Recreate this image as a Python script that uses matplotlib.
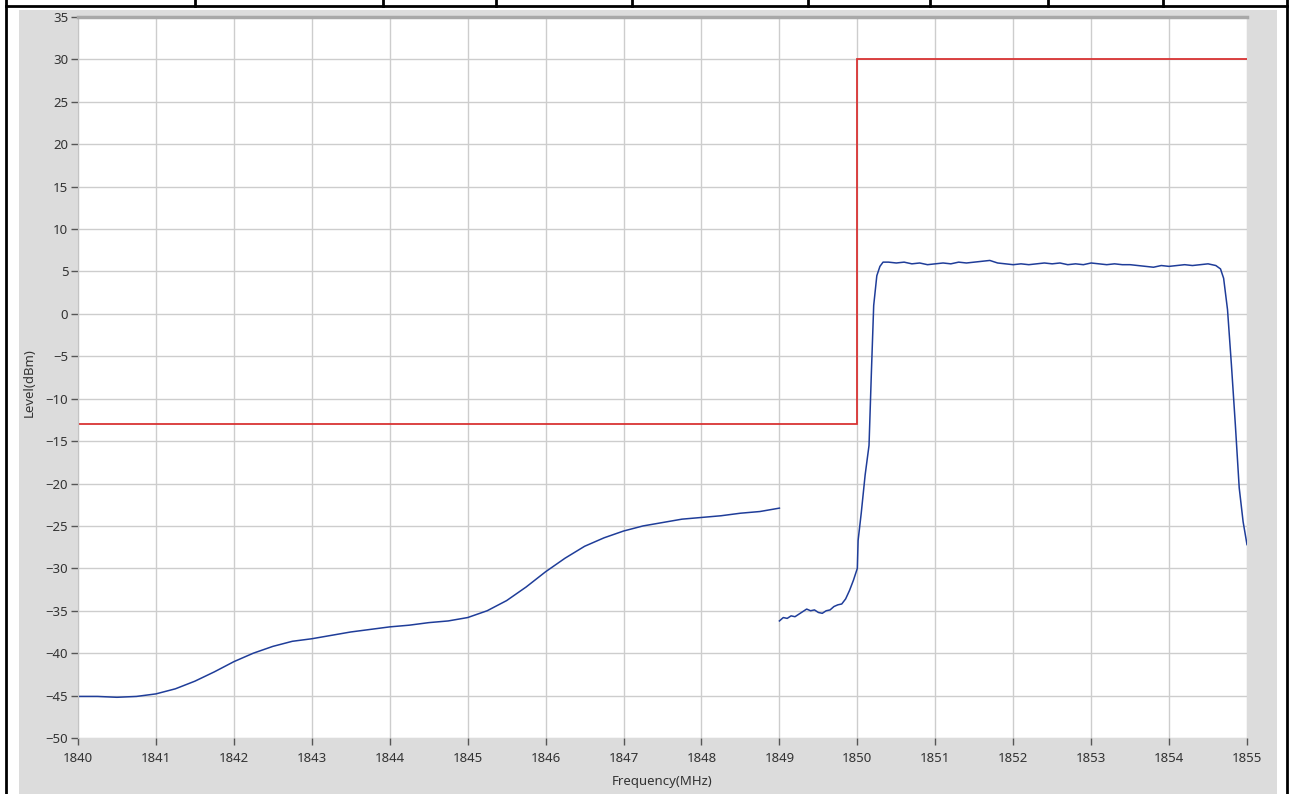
import matplotlib.pyplot as plt
from matplotlib.lines import Line2D
from matplotlib.patches import Rectangle

plt.switch_backend("agg")
plt.rcParams["font.family"] = ["Noto Sans", "DejaVu Sans"]

# measured trace, part below 1849 MHz
freq_low = [1840.00, 1840.25, 1840.50, 1840.75, 1841.00, 1841.25, 1841.50, 1841.75,
            1842.00, 1842.25, 1842.50, 1842.75, 1843.00, 1843.25, 1843.50, 1843.75,
            1844.00, 1844.25, 1844.50, 1844.75, 1845.00, 1845.25, 1845.50, 1845.75,
            1846.00, 1846.25, 1846.50, 1846.75, 1847.00, 1847.25, 1847.50, 1847.75,
            1848.00, 1848.25, 1848.50, 1848.75, 1849.00]
level_low = [-45.1, -45.1, -45.2, -45.1, -44.8, -44.2, -43.3, -42.2,
             -41.0, -40.0, -39.2, -38.6, -38.3, -37.9, -37.5, -37.2,
             -36.9, -36.7, -36.4, -36.2, -35.8, -35.0, -33.8, -32.2,
             -30.4, -28.8, -27.4, -26.4, -25.6, -25.0, -24.6, -24.2,
             -24.0, -23.8, -23.5, -23.3, -22.9]

# measured trace, 1849..1855 MHz
freq_high = [1849.00, 1849.05, 1849.10, 1849.15, 1849.20, 1849.25, 1849.30, 1849.35,
             1849.40, 1849.45, 1849.50, 1849.55, 1849.60, 1849.65, 1849.70, 1849.75,
             1849.80, 1849.85, 1849.90, 1849.95, 1850.00, 1850.01, 1850.05, 1850.10,
             1850.15, 1850.18, 1850.21, 1850.25, 1850.29, 1850.33, 1850.40, 1850.50,
             1850.60, 1850.70, 1850.80, 1850.90, 1851.00, 1851.10, 1851.20, 1851.30,
             1851.40, 1851.50, 1851.60, 1851.70, 1851.80, 1851.90, 1852.00, 1852.10,
             1852.20, 1852.30, 1852.40, 1852.50, 1852.60, 1852.70, 1852.80, 1852.90,
             1853.00, 1853.10, 1853.20, 1853.30, 1853.40, 1853.50, 1853.60, 1853.70,
             1853.80, 1853.90, 1854.00, 1854.10, 1854.20, 1854.30, 1854.40, 1854.50,
             1854.60, 1854.66, 1854.70, 1854.75, 1854.80, 1854.85, 1854.90, 1854.95,
             1855.00]
level_high = [-36.2, -35.8, -35.9, -35.6, -35.7, -35.4, -35.1, -34.8,
              -35.0, -34.9, -35.2, -35.3, -35.0, -34.9, -34.5, -34.3,
              -34.2, -33.6, -32.6, -31.4, -30.0, -26.7, -23.5, -19.0,
              -15.5, -7.0, 1.0, 4.5, 5.6, 6.1, 6.1, 6.0,
              6.1, 5.9, 6.0, 5.8, 5.9, 6.0, 5.9, 6.1,
              6.0, 6.1, 6.2, 6.3, 6.0, 5.9, 5.8, 5.9,
              5.8, 5.9, 6.0, 5.9, 6.0, 5.8, 5.9, 5.8,
              6.0, 5.9, 5.8, 5.9, 5.8, 5.8, 5.7, 5.6,
              5.5, 5.7, 5.6, 5.7, 5.8, 5.7, 5.8, 5.9,
              5.7, 5.3, 4.2, 0.5, -6.0, -13.0, -20.5, -24.5,
              -27.2]

# limit mask
mask_edges = [1840, 1850, 1855]
mask_levels = [-13, 30]

x_ticks = list(range(1840, 1856))
y_ticks = list(range(-50, 40, 5))

W, H = 1290, 794
fig = plt.figure(figsize=(W / 100, H / 100), dpi=100)


def fx(px):
    return px / W


def fy(py):
    return 1 - py / H


# grey instrument panel
fig.add_artist(Rectangle((fx(19), 0), fx(1277) - fx(19), fy(10), transform=fig.transFigure,
                         facecolor="#dcdcdc", edgecolor="none", zorder=0))

# table border around the screenshot
fig.add_artist(Line2D([fx(6), fx(6)], [0, 1], color="black", lw=2, transform=fig.transFigure))
fig.add_artist(Line2D([fx(1287), fx(1287)], [0, 1], color="black", lw=2, transform=fig.transFigure))
fig.add_artist(Line2D([fx(6), fx(1287)], [fy(6), fy(6)], color="black", lw=2, transform=fig.transFigure))
for px in [195, 383, 496, 632, 808, 930, 1048, 1163]:
    fig.add_artist(Line2D([fx(px), fx(px)], [fy(6), 1], color="black", lw=2,
                          transform=fig.transFigure))

ax = fig.add_axes([fx(78), fy(738), fx(1247) - fx(78), fy(17) - fy(738)])
ax.set_facecolor("white")

ax.plot(freq_low, level_low, color="#1f3d99", lw=1.1)
ax.plot(freq_high, level_high, color="#1f3d99", lw=1.1)
ax.stairs(mask_levels, mask_edges, baseline=None, color="#d93434", lw=1.3)

ax.set_xlim(1840, 1855)
ax.set_ylim(-50, 35)
ax.set_xticks(x_ticks)
ax.set_yticks(y_ticks)
ax.grid(True, color="#cdcdcd", lw=1)
ax.set_axisbelow(True)

for side in ["right", "bottom"]:
    ax.spines[side].set_visible(False)
ax.spines["left"].set_color("#c4c4c4")
ax.spines["top"].set_color("#a8a8a8")
ax.spines["top"].set_linewidth(2.5)

ax.tick_params(axis="both", direction="out", length=5, width=1, color="#555555",
               labelcolor="#333333", labelsize=9.5)
ax.tick_params(axis="x", pad=5)
ax.tick_params(axis="y", pad=2)

fig.text(fx(29), fy(383), "Level(dBm)", rotation=90, ha="center", va="center",
         fontsize=9.5, color="#333333")
fig.text(fx(662), fy(781), "Frequency(MHz)", ha="center", va="center",
         fontsize=9.5, color="#333333")

plt.savefig("out.png", dpi=100)
